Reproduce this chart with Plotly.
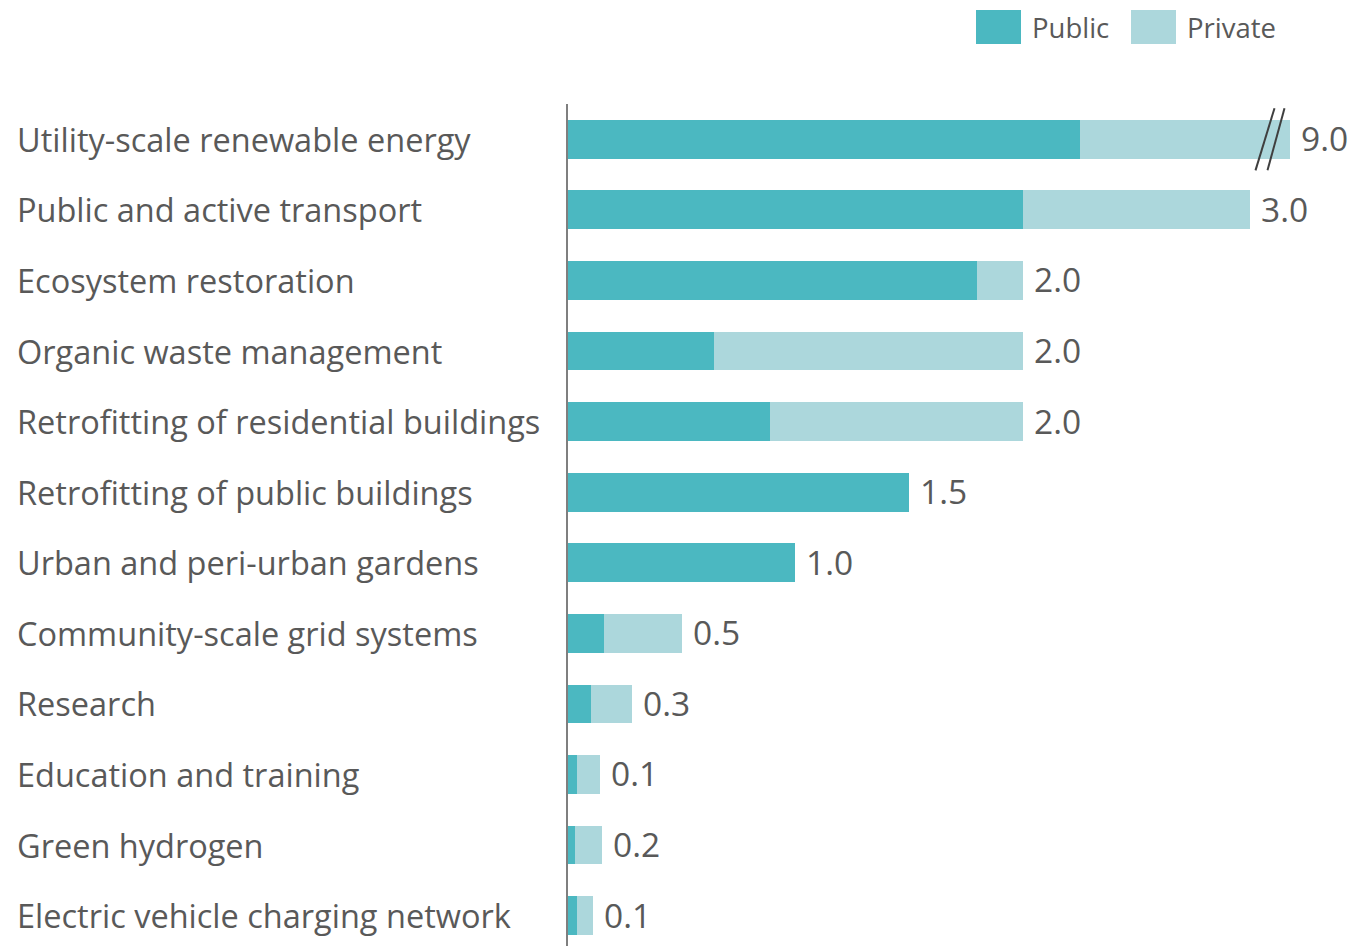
import plotly.graph_objects as go

categories = [
    "Utility-scale renewable energy",
    "Public and active transport",
    "Ecosystem restoration",
    "Organic waste management",
    "Retrofitting of residential buildings",
    "Retrofitting of public buildings",
    "Urban and peri-urban gardens",
    "Community-scale grid systems",
    "Research",
    "Education and training",
    "Green hydrogen",
    "Electric vehicle charging network",
]
public_vals = [2.25, 2.0, 1.80, 0.64, 0.89, 1.5, 1.0, 0.16, 0.10, 0.04, 0.03, 0.04]
private_vals = [6.75, 1.0, 0.20, 1.36, 1.11, 0.0, 0.0, 0.34, 0.18, 0.10, 0.12, 0.07]
total_labels = ["9.0", "3.0", "2.0", "2.0", "2.0", "1.5", "1.0", "0.5", "0.3", "0.1", "0.2", "0.1"]

# axis cut (broken axis) for the first bar
x_max = 3.175

PUBLIC_C = "#4BB8C1"
PRIVATE_C = "#ACD7DC"
TEXT_C = "#595959"
FONT = "Open Sans"
FS_CAT = 32.5
FS_VAL = 33.5

OFF = 8  # page offset of the figure (body margin)
W, H = 1371, 946
ML, MR, MT, MB = 560, 89, 96, 8
plot_w = W - ML - MR
plot_h = H - MT - MB

def px2paper_x(px):
    return (px - OFF - ML) / plot_w

def px2paper_y(py):
    return (H - MB - (py - OFF)) / plot_h

fig = go.Figure()
fig.add_trace(go.Bar(
    y=categories, x=public_vals, orientation="h", name="Public",
    marker=dict(color=PUBLIC_C, line=dict(width=0)), width=0.55,
    hoverinfo="x+y",
))
fig.add_trace(go.Bar(
    y=categories, x=private_vals, orientation="h", name="Private",
    marker=dict(color=PRIVATE_C, line=dict(width=0)), width=0.55,
    hoverinfo="x+y",
))

annotations = []
# value labels at end of bars (clamped at the axis break)
for cat, p, q, lab in zip(categories, public_vals, private_vals, total_labels):
    xpos = min(p + q, x_max)
    annotations.append(dict(
        x=xpos, y=cat, xref="x", yref="y", text=lab, showarrow=False,
        xanchor="left", yanchor="middle", xshift=9, yshift=1,
        font=dict(family=FONT, size=FS_VAL, color=TEXT_C),
    ))
# category labels, left aligned
for cat in categories:
    annotations.append(dict(
        x=px2paper_x(15), y=cat, xref="paper", yref="y", text=cat, showarrow=False,
        xanchor="left", yanchor="middle",
        font=dict(family=FONT, size=FS_CAT, color=TEXT_C),
    ))

# manual legend
legend_items = [("Public", PUBLIC_C, 976, 1021), ("Private", PRIVATE_C, 1131, 1176)]
shapes = []
for name, col, x0, x1 in legend_items:
    shapes.append(dict(
        type="rect", xref="paper", yref="paper",
        x0=px2paper_x(x0), x1=px2paper_x(x1),
        y0=px2paper_y(44), y1=px2paper_y(10),
        fillcolor=col, line=dict(width=0),
    ))
    annotations.append(dict(
        x=px2paper_x(x1 + 9), y=px2paper_y(27), xref="paper", yref="paper",
        text=name, showarrow=False, xanchor="left", yanchor="middle",
        font=dict(family=FONT, size=27.5, color=TEXT_C),
    ))

# axis-break marks on the first bar
for (xa, xb) in [((1256 - 568.5) / 227.4, (1275 - 568.5) / 227.4),
                 ((1268 - 568.5) / 227.4, (1285 - 568.5) / 227.4)]:
    shapes.append(dict(
        type="line", xref="x", yref="y",
        x0=xa, y0=0.44, x1=xb, y1=-0.44,
        line=dict(color="#3f3f3f", width=2),
    ))

fig.update_layout(
    barmode="stack",
    width=W, height=H,
    margin=dict(l=ML, r=MR, t=MT, b=MB, pad=0),
    paper_bgcolor="white", plot_bgcolor="white",
    showlegend=False,
    bargap=0.45,
    xaxis=dict(range=[0, x_max], visible=False, fixedrange=True),
    yaxis=dict(
        type="category", categoryorder="array", categoryarray=categories,
        range=[11.43, -0.5], showticklabels=False, ticks="",
        showline=True, linecolor="#7f7f7f", linewidth=2, showgrid=False,
        zeroline=False,
    ),
    annotations=annotations,
    shapes=shapes,
    font=dict(family=FONT, color=TEXT_C),
)

fig.write_html("out.html")
